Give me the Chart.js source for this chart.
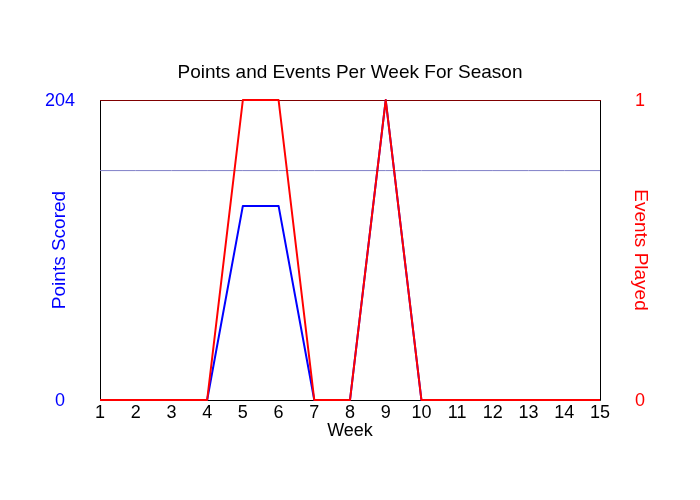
<!DOCTYPE html>
<html>
<head>
<meta charset="utf-8">
<script src="https://cdn.jsdelivr.net/npm/chart.js@4.4.0/dist/chart.umd.min.js"></script>
<style>
  html, body { margin: 0; padding: 0; background: #fff; }
  #wrap { width: 700px; height: 500px; }
</style>
</head>
<body>
<div id="wrap"><canvas id="grafico"></canvas></div>
<script>
// datos de la temporada
var semanas = ['1','2','3','4','5','6','7','8','9','10','11','12','13','14','15'];
var puntos = [0, 0, 0, 0, 132, 132, 0, 0, 204, 0, 0, 0, 0, 0, 0];
var eventos = [0, 0, 0, 0, 1, 1, 0, 0, 1, 0, 0, 0, 0, 0, 0];
var promedioPuntos = [156, 156, 156, 156, 156, 156, 156, 156, 156, 156, 156, 156, 156, 156, 156];
var ticksPuntos = [0, 204];
var ticksEventos = [0, 1];

var fuente = '"Liberation Sans", Arial, sans-serif';

// marco del area de datos, debajo de las lineas
var marcoPlugin = {
   id: 'marco',
   beforeDatasetsDraw: function (chart) {
      var ctx = chart.ctx;
      var a = chart.chartArea;
      ctx.save();
      ctx.lineWidth = 1;
      ctx.strokeStyle = '#000';
      ctx.beginPath();
      ctx.moveTo(a.left + 0.5, a.top);
      ctx.lineTo(a.left + 0.5, a.bottom + 0.5);
      ctx.lineTo(a.right + 0.5, a.bottom + 0.5);
      ctx.lineTo(a.right + 0.5, a.top);
      ctx.stroke();
      ctx.strokeStyle = '#800000';
      ctx.beginPath();
      ctx.moveTo(a.left, a.top + 0.5);
      ctx.lineTo(a.right + 1, a.top + 0.5);
      ctx.stroke();
      ctx.restore();
   },
   // etiquetas de los ejes y titulos
   afterDraw: function (chart) {
      var ctx = chart.ctx;
      var a = chart.chartArea;
      var yL = chart.scales.y;
      var yR = chart.scales.y1;
      ctx.save();
      ctx.font = '18px ' + fuente;
      ctx.textAlign = 'center';
      ctx.textBaseline = 'middle';
      ctx.fillStyle = '#0000ff';
      ticksPuntos.forEach(function (v) {
         ctx.fillText(String(v), 60, yL.getPixelForValue(v) + 1);
      });
      ctx.fillStyle = '#ff0000';
      ticksEventos.forEach(function (v) {
         ctx.fillText(String(v), 640, yR.getPixelForValue(v) + 1);
      });

      ctx.font = '19px ' + fuente;
      var cy = (a.top + a.bottom) / 2;
      ctx.save();
      ctx.translate(60, cy);
      ctx.rotate(-Math.PI / 2);
      ctx.fillStyle = '#0000ff';
      ctx.fillText('Points Scored', 0, 0);
      ctx.restore();

      ctx.save();
      ctx.translate(640, cy);
      ctx.rotate(Math.PI / 2);
      ctx.fillStyle = '#ff0000';
      ctx.fillText('Events Played', 0, 0);
      ctx.restore();

      ctx.font = '18px ' + fuente;
      ctx.fillStyle = '#000';
      ctx.fillText('Week', (a.left + a.right) / 2, 431);
      ctx.restore();
   }
};

var ctxGrafico = document.getElementById('grafico').getContext('2d');
var miGrafico = new Chart(ctxGrafico, {
   type: 'line',
   data: {
      labels: semanas,
      datasets: [{
         label: 'Events Played',
         data: eventos,
         yAxisID: 'y1',
         borderColor: '#ff0000',
         borderWidth: 2,
         borderJoinStyle: 'round',
         pointRadius: 0,
         tension: 0,
         clip: false,
         order: 0
      }, {
         label: 'Points Scored',
         data: puntos,
         yAxisID: 'y',
         borderColor: '#0000ff',
         borderWidth: 2,
         borderJoinStyle: 'round',
         pointRadius: 0,
         tension: 0,
         clip: false,
         order: 1
      }, {
         label: 'Average',
         data: promedioPuntos,
         yAxisID: 'y',
         borderColor: 'rgb(128, 128, 200)',
         borderWidth: 1,
         pointRadius: 0,
         tension: 0,
         order: 2
      }]
   },
   options: {
      responsive: true,
      maintainAspectRatio: false,
      animation: false,
      layout: { padding: 0 },
      plugins: {
         legend: { display: false },
         tooltip: { enabled: false },
         title: {
            display: true,
            text: 'Points and Events Per Week For Season',
            color: '#000',
            font: { family: fuente, size: 19, weight: 'normal' },
            padding: { top: 61, bottom: 16.2 }
         }
      },
      scales: {
         x: {
            offset: false,
            grid: { display: false, drawTicks: false },
            border: { display: false },
            ticks: {
               color: '#000',
               font: { family: fuente, size: 18 },
               padding: 2,
               maxRotation: 0,
               autoSkip: false
            },
            afterFit: function (scale) { scale.height = 100; }
         },
         y: {
            position: 'left',
            min: 0,
            max: 204,
            grid: { display: false },
            border: { display: false },
            ticks: { display: false },
            afterFit: function (scale) { scale.width = 100; }
         },
         y1: {
            position: 'right',
            min: 0,
            max: 1,
            grid: { display: false },
            border: { display: false },
            ticks: { display: false },
            afterFit: function (scale) { scale.width = 100; }
         }
      }
   },
   plugins: [marcoPlugin]
});
</script>
</body>
</html>
